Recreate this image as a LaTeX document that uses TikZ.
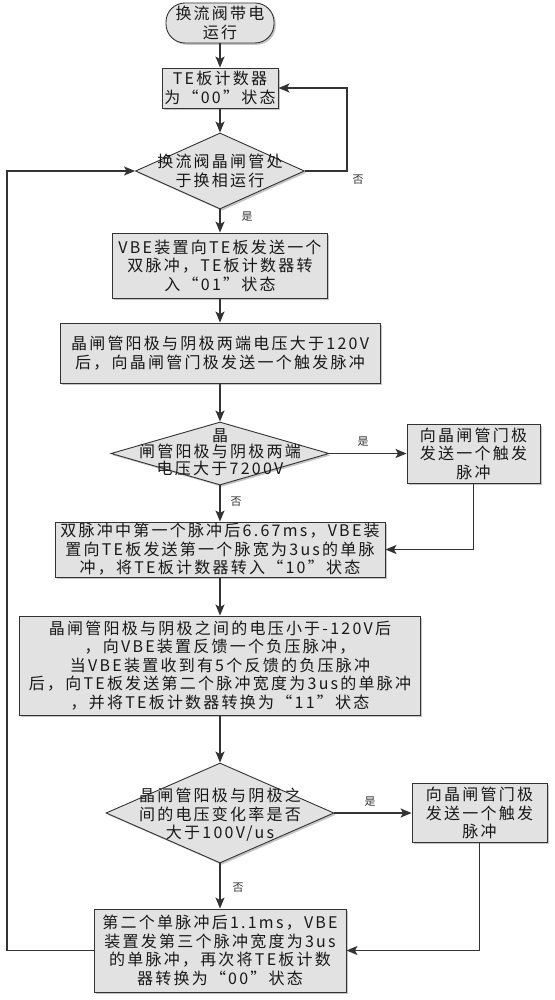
\documentclass[tikz,border=0pt]{standalone}
\usepackage{fontspec}
\setmainfont[LetterSpace=14]{Noto Sans CJK SC}
\usetikzlibrary{arrows.meta,shapes.geometric,shadows}
\definecolor{lin}{HTML}{333333}
\definecolor{boxfill}{HTML}{E2E2E2}
\tikzset{
  txt/.style={font=\fontsize{16}{18.5}\selectfont, align=center, text=black!90},
  boxst/.style={txt, draw=lin, line width=0.9pt, fill=boxfill, inner sep=0pt,
     drop shadow={opacity=0.45, shadow xshift=1.8pt, shadow yshift=-1.8pt}},
  dia/.style={shape=diamond, draw=lin, line width=0.9pt, fill=boxfill, inner sep=0pt,
     drop shadow={opacity=0.45, shadow xshift=1.8pt, shadow yshift=-1.8pt}},
  arr/.style={draw=lin, line width=1.3pt, -{Stealth[length=11pt,width=9pt,inset=2.5pt]}},
  lbl/.style={font=\fontsize{11}{12}\selectfont, text=black!80}
}
\begin{document}
\begin{tikzpicture}[x=1pt,y={(0pt,-1pt)}]
\useasboundingbox[fill=white] (0,0) rectangle (554,1000);

\node[boxst, rounded corners=19pt, minimum width=108pt, minimum height=40pt] (term) at (220,23) {换流阀带电\\运行};
\node[boxst, minimum width=116pt, minimum height=40pt] (b1) at (220,88) {TE板计数器\\为“00”状态};
\node[dia, minimum width=169pt, minimum height=76pt] (d1) at (220,171) {};
\node[txt] (t1) at (220,171) {换流阀晶闸管处\\于换相运行};
\node[boxst, minimum width=215pt, minimum height=65pt] (b2) at (220,265.5) {VBE装置向TE板发送一个\\双脉冲，TE板计数器转\\入“01”状态};
\node[boxst, minimum width=320pt, minimum height=60pt] (b3) at (220,353) {晶闸管阳极与阴极两端电压大于120V\\后，向晶闸管门极发送一个触发脉冲};
\node[dia, minimum width=218pt, minimum height=63pt] (d2) at (220,453.5) {};
\node[txt, font=\fontsize{16}{16.5}\selectfont] (t2) at (220,452) {晶\\闸管阳极与阴极两端\\电压大于7200V};
\node[boxst, minimum width=133pt, minimum height=59pt] (b4) at (473.5,453.5) {向晶闸管门极\\发送一个触发\\脉冲};
\node[boxst, minimum width=330pt, minimum height=55pt] (b5) at (220,549.5) {双脉冲中第一个脉冲后6.67ms，VBE装\\置向TE板发送第一个脉宽为3us的单脉\\冲，将TE板计数器转入“10”状态};
\node[boxst, minimum width=401pt, minimum height=99pt] (b6) at (220,665.5) {晶闸管阳极与阴极之间的电压小于-120V后\\，向VBE装置反馈一个负压脉冲，\\当VBE装置收到有5个反馈的负压脉冲\\后，向TE板发送第二个脉冲宽度为3us的单脉冲\\，并将TE板计数器转换为“11”状态};
\node[dia, minimum width=228pt, minimum height=100pt] (d3) at (220,813) {};
\node[txt] (t3) at (220,815) {晶闸管阳极与阴极之\\间的电压变化率是否\\大于100V/us};
\node[boxst, minimum width=135pt, minimum height=59pt] (b7) at (479.5,813) {向晶闸管门极\\发送一个触发\\脉冲};
\node[boxst, minimum width=252pt, minimum height=83pt] (b8) at (220,950.5) {第二个单脉冲后1.1ms，VBE\\装置发第三个脉冲宽度为3us\\的单脉冲，再次将TE板计数\\器转换为“00”状态};

\coordinate (c1) at (347,88);
\coordinate (c2) at (7,950.5);

\draw[arr] (term.south) -- (b1.north);
\draw[arr] (b1.south) -- (d1.north);
\draw[arr] (d1.south) -- (b2.north);
\draw[arr] (d1.east) -| (c1) -- (b1.east);
\draw[arr] (b2.south) -- (b3.north);
\draw[arr] (b3.south) -- (d2.north);
\draw[arr] (d2.east) -- (b4.west);
\draw[arr] (d2.south) -- (b5.north);
\draw[arr] (b4.south) |- (b5.east);
\draw[arr] (b5.south) -- (b6.north);
\draw[arr] (b6.south) -- (d3.north);
\draw[arr] (d3.east) -- (b7.west);
\draw[arr] (d3.south) -- (b8.north);
\draw[arr] (b7.south) |- (b8.east);
\draw[arr] (b8.west) -- (c2) |- (d1.west);

\node[lbl] (l1) at (358,180) {否};
\node[lbl] (l2) at (247,217) {是};
\node[lbl] (l3) at (363,442) {是};
\node[lbl] (l4) at (236,502) {否};
\node[lbl] (l5) at (370,802) {是};
\node[lbl] (l6) at (238,888) {否};
\end{tikzpicture}
\end{document}
